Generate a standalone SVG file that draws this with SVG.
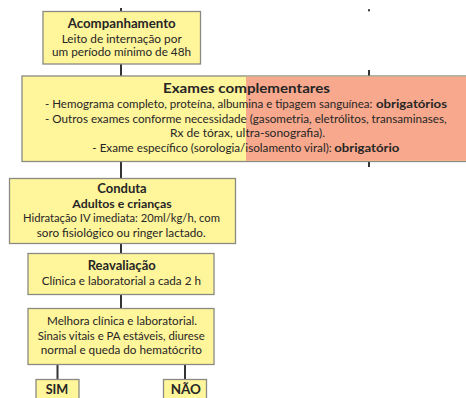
<svg xmlns="http://www.w3.org/2000/svg" width="466" height="398" viewBox="0 0 466 398">
<style>
.box{fill:#FFF59B;stroke:#8a8a82;stroke-width:1.3}
.peach{fill:#F8A88C;stroke:none}
.t{font-family:Lato,"Open Sans","Liberation Sans",sans-serif;fill:#262626;font-size:12px}
.b{font-weight:bold;font-size:13px}
.c{text-anchor:middle}
.s{font-size:11.5px}
.conn line{stroke:#333;stroke-width:2}
</style>
<rect width="466" height="398" fill="#fff"/>
<g id="connectors" class="conn">
<line x1="121" y1="8" x2="121" y2="12"/>
<line x1="368" y1="10.3" x2="370" y2="10.3" stroke-width="1.5"/>
<line x1="121" y1="63" x2="121" y2="76"/>
<line x1="369" y1="70" x2="369" y2="76"/>
<line x1="121" y1="162" x2="121" y2="179"/>
<line x1="369" y1="162" x2="369" y2="167"/>
<line x1="121" y1="243" x2="121" y2="254"/>
<line x1="121" y1="294" x2="121" y2="309"/>
<line x1="57.5" y1="364" x2="57.5" y2="380"/>
<line x1="185" y1="364" x2="185" y2="380"/>
</g>
<g id="acompanhamento">
<rect class="box" x="43" y="11.5" width="157.5" height="52.5"/>
<text class="t b" x="67.7" y="27.5" textLength="108" lengthAdjust="spacingAndGlyphs">Acompanhamento</text>
<text class="t" x="61.7" y="42.5" textLength="120" lengthAdjust="spacingAndGlyphs" style="font-size:11px">Leito de internação por</text>
<text class="t" x="52" y="55.8" textLength="139" lengthAdjust="spacingAndGlyphs" style="font-size:11px">um período mínimo de 48h</text>
</g>
<g id="exames">
<rect class="box" x="22" y="76" width="450" height="85.5"/>
<rect class="peach" x="246" y="76.7" width="220" height="84.1"/>
<text class="t b" x="163" y="92.5" textLength="167" lengthAdjust="spacingAndGlyphs" style="font-size:14px">Exames complementares</text>
<text class="t s" x="45" y="108.3" textLength="327.5" lengthAdjust="spacingAndGlyphs">- Hemograma completo, proteína, albumina e tipagem sanguínea:</text>
<text class="t s" x="376" y="108.3" textLength="71" lengthAdjust="spacingAndGlyphs" font-weight="bold">obrigatórios</text>
<text class="t s" x="45" y="122.5" textLength="401.7" lengthAdjust="spacingAndGlyphs">- Outros exames conforme necessidade (gasometria, eletrólitos, transaminases,</text>
<text class="t s" x="170" y="136.8" textLength="155" lengthAdjust="spacingAndGlyphs">Rx de tórax, ultra-sonografia).</text>
<text class="t s" x="92.3" y="152.3" textLength="239.4" lengthAdjust="spacingAndGlyphs">- Exame específico (sorologia/isolamento viral):</text>
<text class="t s" x="334.3" y="152.3" textLength="65" lengthAdjust="spacingAndGlyphs" font-weight="bold">obrigatório</text>
</g>
<g id="conduta">
<rect class="box" x="9.5" y="178.5" width="226" height="65"/>
<text class="t b" x="97.3" y="192.5" textLength="49.4" lengthAdjust="spacingAndGlyphs">Conduta</text>
<text class="t b" x="72.3" y="207.7" textLength="99.4" lengthAdjust="spacingAndGlyphs" style="font-size:12px">Adultos e crianças</text>
<text class="t" x="23" y="221.7" textLength="197" lengthAdjust="spacingAndGlyphs">Hidratação IV imediata: 20ml/kg/h, com</text>
<text class="t" x="36.7" y="236.7" textLength="169" lengthAdjust="spacingAndGlyphs">soro fisiológico ou ringer lactado.</text>
</g>
<g id="reavaliacao">
<rect class="box" x="28" y="253.5" width="186" height="41"/>
<text class="t b" x="87.7" y="270" textLength="68" lengthAdjust="spacingAndGlyphs" style="font-size:12.5px">Reavaliação</text>
<text class="t" x="41.7" y="284.5" textLength="159.3" lengthAdjust="spacingAndGlyphs">Clínica e laboratorial a cada 2 h</text>
</g>
<g id="melhora">
<rect class="box" x="28" y="308.5" width="186" height="56"/>
<text class="t" x="47" y="325" textLength="150" lengthAdjust="spacingAndGlyphs">Melhora clínica e laboratorial.</text>
<text class="t" x="37.7" y="339.5" textLength="167" lengthAdjust="spacingAndGlyphs">Sinais vitais e PA estáveis, diurese</text>
<text class="t" x="40.7" y="353.8" textLength="161.3" lengthAdjust="spacingAndGlyphs">normal e queda do hematócrito</text>
</g>
<g id="sim">
<rect class="box" x="36" y="379.5" width="43" height="25"/>
<text class="t b" x="45.7" y="393.5" textLength="22.6" lengthAdjust="spacingAndGlyphs">SIM</text>
</g>
<g id="nao">
<rect class="box" x="163.5" y="379.5" width="43" height="25"/>
<text class="t b" x="170.7" y="393.8" textLength="30.3" lengthAdjust="spacingAndGlyphs">NÃO</text>
</g>
</svg>
